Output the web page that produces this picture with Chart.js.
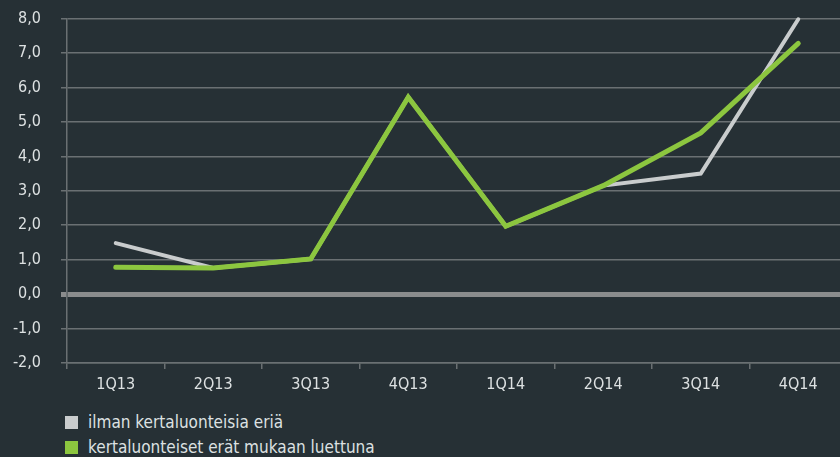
<!DOCTYPE html>
<html>
<head>
<meta charset="utf-8">
<script src="https://cdn.jsdelivr.net/npm/chart.js@4.4.1/dist/chart.umd.min.js"></script>
<style>
  html, body { margin: 0; padding: 0; background: #263035; overflow: hidden; width: 840px; height: 457px; }
  #wrap { position: absolute; left: 0; top: -11px; width: 848px; height: 411px; }
  #legenda { position: absolute; left: 65px; top: 410px; font-family: "Liberation Sans Narrow", "DejaVu Sans Condensed", sans-serif; font-size: 17px; color: #dde1e2; }
  #legenda div { height: 25px; line-height: 25px; }
  #legenda span.box { display: inline-block; width: 13px; height: 13px; margin-right: 10px; vertical-align: -1px; }
</style>
</head>
<body>
<div id="wrap"><canvas id="cvs_grafico" width="848" height="411"></canvas></div>
<div id="legenda"></div>

<script>
// dados
const kvartaalit = ["1Q13", "2Q13", "3Q13", "4Q13", "1Q14", "2Q14", "3Q14", "4Q14"];
const ilmanKertaeria = [1.48, 0.76, 1.02, 5.72, 1.97, 3.15, 3.5, 7.98];
const kertaeratMukana = [0.78, 0.76, 1.02, 5.72, 1.97, 3.15, 4.68, 7.28];
const nimiHarmaa = "ilman kertaluonteisia eriä";
const nimiVihrea = "kertaluonteiset erät mukaan luettuna";

const fonte = '"Liberation Sans Narrow", "DejaVu Sans Condensed", sans-serif';
const corTexto = "#dde1e2";
const corGrade = "#6a7073";

const grafico = document.getElementById("cvs_grafico");

new Chart(grafico, {
  type: "line",
  data: {
    labels: kvartaalit,
    datasets: [
      {
        label: nimiHarmaa,
        data: ilmanKertaeria,
        borderColor: "#c9cccd",
        borderWidth: 4,
        pointRadius: 0,
        borderCapStyle: "round",
        tension: 0,
        clip: false,
        order: 2,
      },
      {
        label: nimiVihrea,
        data: kertaeratMukana,
        borderColor: "#8cc63f",
        borderWidth: 5,
        pointRadius: 0,
        borderCapStyle: "round",
        tension: 0,
        clip: false,
        order: 1,
      },
    ],
  },
  options: {
    responsive: false,
    animation: false,
    layout: { padding: { top: 8, right: 1, left: 0, bottom: 0 } },
    plugins: { legend: { display: false }, tooltip: { enabled: false } },
    scales: {
      x: {
        offset: true,
        grid: { display: true, drawOnChartArea: false, offset: true, color: corGrade, tickLength: 6, lineWidth: 1.5 },
        border: { display: true, color: corGrade, width: 1.5 },
        ticks: { color: corTexto, font: { family: fonte, size: 16 }, padding: 6, maxRotation: 0 },
        afterFit: function (escala) { escala.height = 37; },
      },
      y: {
        min: -2,
        max: 8,
        ticks: {
          stepSize: 1,
          color: corTexto,
          font: { family: fonte, size: 16 },
          padding: 20,
          callback: function (v) { return v.toFixed(1).replace(".", ","); },
        },
        grid: {
          color: function (ctx) { return ctx.tick && ctx.tick.value == 0 ? "#8a8c8d" : corGrade; },
          lineWidth: function (ctx) { return ctx.tick && ctx.tick.value == 0 ? 5 : 1.5; },
          tickLength: 6,
        },
        border: { display: true, color: corGrade, width: 1.5 },
        afterFit: function (escala) { escala.width = 67; },
      },
    },
  },
});

// LEGENDA
var legenda = document.getElementById("legenda");
legenda.innerHTML =
  '<div><span class="box" style="background:#c9cccd"></span>' + nimiHarmaa + "</div>" +
  '<div><span class="box" style="background:#8cc63f"></span>' + nimiVihrea + "</div>";
</script>
</body>
</html>
